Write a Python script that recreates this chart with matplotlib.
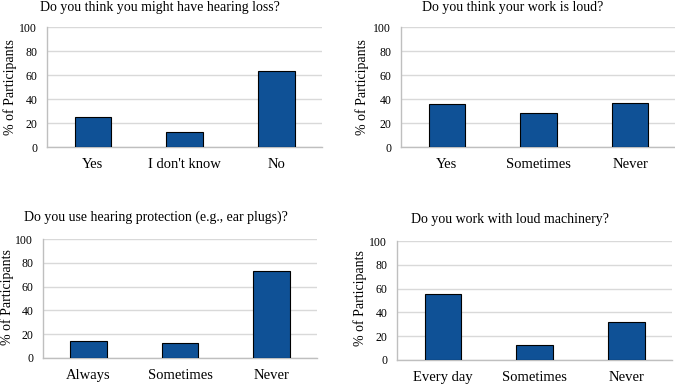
import matplotlib
matplotlib.use('Agg')
import matplotlib.pyplot as plt

plt.rcParams['font.family'] = ['Liberation Serif', 'DejaVu Serif']

# Datos de cada pregunta
titles = ['Do you think you might have hearing loss?',
          'Do you think your work is loud?',
          'Do you use hearing protection (e.g., ear plugs)?',
          'Do you work with loud machinery?']
cats_loss = ['Yes', "I don't know", 'No']
vals_loss = [24.7, 12.2, 63.0]
cats_loud = ['Yes', 'Sometimes', 'Never']
vals_loud = [35.8, 28.0, 36.4]
cats_prot = ['Always', 'Sometimes', 'Never']
vals_prot = [14.5, 12.6, 73.2]
cats_mach = ['Every day', 'Sometimes', 'Never']
vals_mach = [55.3, 12.6, 31.6]

W, H = 675, 384
fig = plt.figure(figsize=(6.75, 3.84), dpi=100)

# posiciones en pixeles: izquierda, derecha, arriba, abajo
boxes = [(47, 322, 27, 147), (401, 676, 27, 147),
         (43, 317, 239, 358), (397, 672, 241, 360)]
title_pos = [(160, 7), (513, 7), (156, 217), (510, 219)]
ylabel_pos = [(10, 87), (362, 87), (7, 297), (360, 298)]
data = [(cats_loss, vals_loss), (cats_loud, vals_loud),
        (cats_prot, vals_prot), (cats_mach, vals_mach)]

for i, (cats, vals) in enumerate(data):
    l, r, t, b = boxes[i]
    ax = fig.add_axes([l / W, 1 - b / H, (r - l) / W, (b - t) / H])
    ax.bar(range(len(cats)), vals, width=0.4, color='#0F5196',
           edgecolor='black', linewidth=0.8, zorder=3)
    ax.set_xlim(-0.5, 2.5)
    ax.set_ylim(0, 100)
    ax.set_yticks(range(0, 101, 20))
    ax.set_xticks(range(len(cats)))
    ax.set_xticklabels(cats, fontsize=10.5)
    ax.tick_params(axis='y', labelsize=8.5, length=0, pad=7)
    ax.tick_params(axis='x', length=0, pad=8)
    ax.grid(axis='y', color='#D9D9D9', linewidth=1, zorder=0)
    for s in ['top', 'right']:
        ax.spines[s].set_visible(False)
    for s in ['left', 'bottom']:
        ax.spines[s].set_color('#BFBFBF')
        ax.spines[s].set_linewidth(1)
    tx, ty = title_pos[i]
    fig.text(tx / W, 1 - ty / H, titles[i], ha='center', va='center', fontsize=10)
    yx, yy = ylabel_pos[i]
    fig.text(yx / W, 1 - yy / H, '% of Participants', ha='center', va='center',
             rotation=90, fontsize=10)

plt.savefig('out.png', dpi=100)
